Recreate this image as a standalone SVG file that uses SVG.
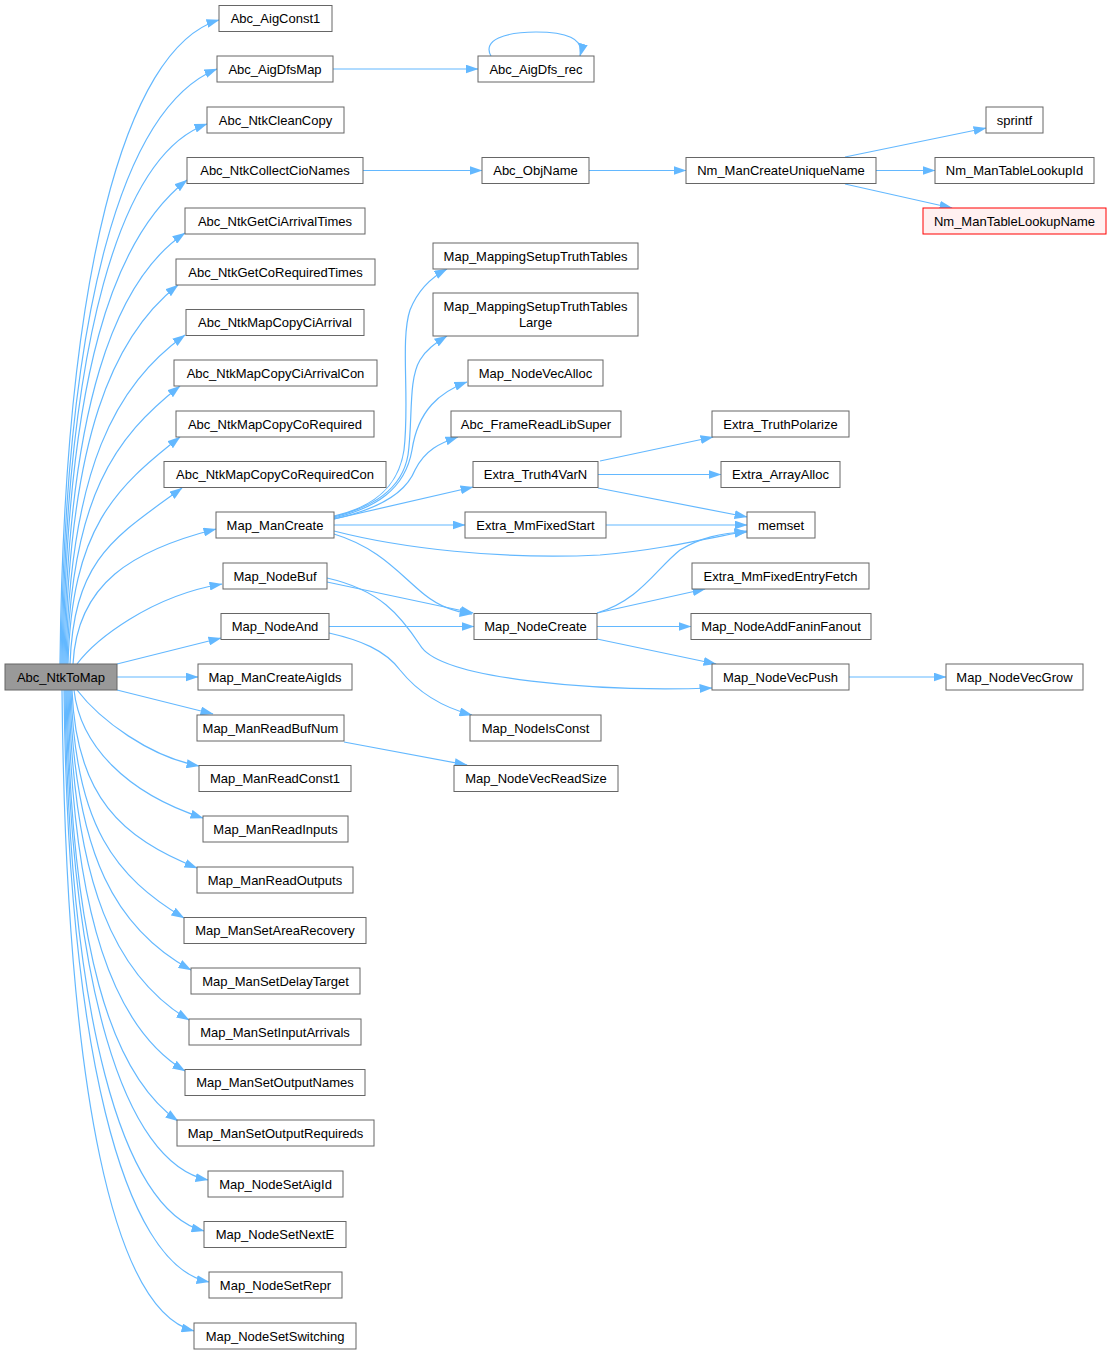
<svg xmlns="http://www.w3.org/2000/svg" width="1111" height="1355" viewBox="0 0 1111 1355">
<style>
.n rect{fill:#ffffff;stroke:#666666;stroke-width:1}
.root rect{fill:#999999;stroke:#666666}
.red rect{fill:#fff0f0;stroke:#ff0000}
text{font-family:"Liberation Sans",Arial,sans-serif;font-size:13px;fill:#000;text-anchor:middle}
.e path{fill:none;stroke:#63b8ff;stroke-width:1.2;marker-end:url(#a)}
</style>
<defs>
<marker id="a" viewBox="0 0 13 9" refX="12.5" refY="4.5" markerWidth="13" markerHeight="9" markerUnits="userSpaceOnUse" orient="auto">
<path d="M0,0 L13,4.5 L0,9 z" fill="#63b8ff" stroke="none"/>
</marker>
</defs>
<rect width="1111" height="1355" fill="#ffffff"/>
<g class="e" id="edges">
<path d="M60,664 C64,278 124,48 219,20"/>
<path d="M61,664 C65,307 123,107 217,69"/>
<path d="M62,664 C66,340 120,155 207,124"/>
<path d="M63,664 C67,374 113,238 187,180"/>
<path d="M64,664 C68,405 115,280 185,233"/>
<path d="M65,664 C69,437 113,336 178,285"/>
<path d="M66,664 C70,467 116,385 185,335"/>
<path d="M67,664 C71,497 115,437 180,386"/>
<path d="M68,664 C72,528 115,488 180,437"/>
<path d="M70,664 C74,558 115,537 182,488"/>
<path d="M73,664 C77,583 133,550 216,529"/>
<path d="M77,664 C95,640 150,596 222,584"/>
<path d="M117,664 L221,638"/>
<path d="M117,677 L198,677"/>
<path d="M117,690 L213,714"/>
<path d="M77,690 C100,720 150,757 199,766"/>
<path d="M74,690 C80,745 126,793 203,818"/>
<path d="M72,690 C76,797 122,838 197,868"/>
<path d="M71,690 C75,827 116,877 184,918"/>
<path d="M70,690 C74,858 118,930 191,970"/>
<path d="M69,690 C73,888 117,977 189,1020"/>
<path d="M68,690 C72,919 115,1029 185,1071"/>
<path d="M67,690 C71,949 111,1074 178,1121"/>
<path d="M66,690 C70,984 123,1163 208,1180"/>
<path d="M65,690 C69,1015 121,1210 204,1231"/>
<path d="M64,690 C68,1045 122,1265 209,1282"/>
<path d="M62,690 C66,1100 115,1311 194,1331"/>
<path d="M333,69 L478,69"/>
<path d="M491,56 C482,40 505,32 536,32 C565,32 585,38 580,56"/>
<path d="M363,170.5 L482,170.5"/>
<path d="M589,170.5 L686,170.5"/>
<path d="M845,157 L986,128"/>
<path d="M876,170.5 L935,170.5"/>
<path d="M845,184 L952,208"/>
<path d="M334,516 C370,508 398,490 404,450 C410,400 400,340 410,310 C418,290 430,278 447,269"/>
<path d="M334,517 C372,507 402,490 408,455 C413,420 408,380 420,360 C426,350 434,344 447,336"/>
<path d="M334,518 C375,508 405,490 412,450 C418,410 440,392 467,382"/>
<path d="M334,519 C375,510 405,495 415,470 C425,450 440,443 458,437"/>
<path d="M334,519 L473,487"/>
<path d="M334,525 L465,525"/>
<path d="M334,531 C400,548 500,560 600,555 C660,550 710,538 747,531"/>
<path d="M334,534 C380,548 400,575 425,595 C440,607 455,612 472,614"/>
<path d="M327,582 L473,613"/>
<path d="M327,578 C380,590 400,615 420,645 C440,680 600,692 712,688"/>
<path d="M329,626.5 L474,626.5"/>
<path d="M329,633 C360,640 385,650 400,670 C420,695 445,708 472,715"/>
<path d="M344,742 L467,765"/>
<path d="M597,613 C640,600 655,570 680,550 C700,538 720,533 747,532"/>
<path d="M597,613 L705,589"/>
<path d="M597,626.5 L691,626.5"/>
<path d="M597,639 L716,664"/>
<path d="M849,677 L946,677"/>
<path d="M600,461 L713,437"/>
<path d="M598,474.5 L721,474.5"/>
<path d="M598,488 L747,517"/>
<path d="M606,525 L747,525"/>
</g>
<g id="Abc_NtkToMap" class="n root"><rect x="5" y="664" width="112" height="26"/><text x="61" y="681.5">Abc_NtkToMap</text></g>
<g id="Abc_AigConst1" class="n"><rect x="219" y="5.5" width="113" height="26"/><text x="275.5" y="23">Abc_AigConst1</text></g>
<g id="Abc_AigDfsMap" class="n"><rect x="217" y="56" width="116" height="26"/><text x="275" y="73.5">Abc_AigDfsMap</text></g>
<g id="Abc_NtkCleanCopy" class="n"><rect x="207" y="107" width="137" height="26"/><text x="275.5" y="124.5">Abc_NtkCleanCopy</text></g>
<g id="Abc_NtkCollectCioNames" class="n"><rect x="187" y="157.5" width="176" height="26"/><text x="275" y="175">Abc_NtkCollectCioNames</text></g>
<g id="Abc_NtkGetCiArrivalTimes" class="n"><rect x="185" y="208" width="180" height="26"/><text x="275" y="225.5">Abc_NtkGetCiArrivalTimes</text></g>
<g id="Abc_NtkGetCoRequiredTimes" class="n"><rect x="176" y="259" width="199" height="26"/><text x="275.5" y="276.5">Abc_NtkGetCoRequiredTimes</text></g>
<g id="Abc_NtkMapCopyCiArrival" class="n"><rect x="186" y="309.5" width="178" height="26"/><text x="275" y="327">Abc_NtkMapCopyCiArrival</text></g>
<g id="Abc_NtkMapCopyCiArrivalCon" class="n"><rect x="174" y="360" width="203" height="26"/><text x="275.5" y="377.5">Abc_NtkMapCopyCiArrivalCon</text></g>
<g id="Abc_NtkMapCopyCoRequired" class="n"><rect x="176" y="411" width="198" height="26"/><text x="275" y="428.5">Abc_NtkMapCopyCoRequired</text></g>
<g id="Abc_NtkMapCopyCoRequiredCon" class="n"><rect x="164" y="461.5" width="222" height="26"/><text x="275" y="479">Abc_NtkMapCopyCoRequiredCon</text></g>
<g id="Map_ManCreate" class="n"><rect x="216" y="512" width="118" height="26"/><text x="275" y="529.5">Map_ManCreate</text></g>
<g id="Map_NodeBuf" class="n"><rect x="223" y="563" width="104" height="26"/><text x="275" y="580.5">Map_NodeBuf</text></g>
<g id="Map_NodeAnd" class="n"><rect x="221" y="613.5" width="108" height="26"/><text x="275" y="631">Map_NodeAnd</text></g>
<g id="Map_ManCreateAigIds" class="n"><rect x="198" y="664" width="154" height="26"/><text x="275" y="681.5">Map_ManCreateAigIds</text></g>
<g id="Map_ManReadBufNum" class="n"><rect x="197" y="715" width="147" height="26"/><text x="270.5" y="732.5">Map_ManReadBufNum</text></g>
<g id="Map_ManReadConst1" class="n"><rect x="199" y="765.5" width="152" height="26"/><text x="275" y="783">Map_ManReadConst1</text></g>
<g id="Map_ManReadInputs" class="n"><rect x="203" y="816" width="145" height="26"/><text x="275.5" y="833.5">Map_ManReadInputs</text></g>
<g id="Map_ManReadOutputs" class="n"><rect x="197" y="867" width="156" height="26"/><text x="275" y="884.5">Map_ManReadOutputs</text></g>
<g id="Map_ManSetAreaRecovery" class="n"><rect x="184" y="917.5" width="182" height="26"/><text x="275" y="935">Map_ManSetAreaRecovery</text></g>
<g id="Map_ManSetDelayTarget" class="n"><rect x="191" y="968" width="169" height="26"/><text x="275.5" y="985.5">Map_ManSetDelayTarget</text></g>
<g id="Map_ManSetInputArrivals" class="n"><rect x="189" y="1019" width="172" height="26"/><text x="275" y="1036.5">Map_ManSetInputArrivals</text></g>
<g id="Map_ManSetOutputNames" class="n"><rect x="185" y="1069.5" width="180" height="26"/><text x="275" y="1087">Map_ManSetOutputNames</text></g>
<g id="Map_ManSetOutputRequireds" class="n"><rect x="177" y="1120" width="197" height="26"/><text x="275.5" y="1137.5">Map_ManSetOutputRequireds</text></g>
<g id="Map_NodeSetAigId" class="n"><rect x="208" y="1171" width="135" height="26"/><text x="275.5" y="1188.5">Map_NodeSetAigId</text></g>
<g id="Map_NodeSetNextE" class="n"><rect x="204" y="1221.5" width="142" height="26"/><text x="275" y="1239">Map_NodeSetNextE</text></g>
<g id="Map_NodeSetRepr" class="n"><rect x="209" y="1272" width="133" height="26"/><text x="275.5" y="1289.5">Map_NodeSetRepr</text></g>
<g id="Map_NodeSetSwitching" class="n"><rect x="194" y="1323" width="162" height="26"/><text x="275" y="1340.5">Map_NodeSetSwitching</text></g>
<g id="Abc_AigDfs_rec" class="n"><rect x="478" y="56" width="116" height="26"/><text x="536" y="73.5">Abc_AigDfs_rec</text></g>
<g id="Abc_ObjName" class="n"><rect x="482" y="157.5" width="107" height="26"/><text x="535.5" y="175">Abc_ObjName</text></g>
<g id="Nm_ManCreateUniqueName" class="n"><rect x="686" y="157.5" width="190" height="26"/><text x="781" y="175">Nm_ManCreateUniqueName</text></g>
<g id="sprintf" class="n"><rect x="986" y="107" width="57" height="26"/><text x="1014.5" y="124.5">sprintf</text></g>
<g id="Nm_ManTableLookupId" class="n"><rect x="935" y="157.5" width="159" height="26"/><text x="1014.5" y="175">Nm_ManTableLookupId</text></g>
<g id="Nm_ManTableLookupName" class="n red"><rect x="923" y="208" width="183" height="26"/><text x="1014.5" y="225.5">Nm_ManTableLookupName</text></g>
<g id="Map_MappingSetupTruthTables" class="n"><rect x="433" y="243" width="205" height="26"/><text x="535.5" y="260.5">Map_MappingSetupTruthTables</text></g>
<g id="Map_MappingSetupTruthTablesLarge" class="n"><rect x="433" y="293" width="205" height="43"/><text x="535.5" y="311">Map_MappingSetupTruthTables</text><text x="535.5" y="327">Large</text></g>
<g id="Map_NodeVecAlloc" class="n"><rect x="468" y="360" width="135" height="26"/><text x="535.5" y="377.5">Map_NodeVecAlloc</text></g>
<g id="Abc_FrameReadLibSuper" class="n"><rect x="451" y="411" width="170" height="26"/><text x="536" y="428.5">Abc_FrameReadLibSuper</text></g>
<g id="Extra_Truth4VarN" class="n"><rect x="473" y="461.5" width="125" height="26"/><text x="535.5" y="479">Extra_Truth4VarN</text></g>
<g id="Extra_MmFixedStart" class="n"><rect x="465" y="512" width="141" height="26"/><text x="535.5" y="529.5">Extra_MmFixedStart</text></g>
<g id="Extra_TruthPolarize" class="n"><rect x="712" y="411" width="137" height="26"/><text x="780.5" y="428.5">Extra_TruthPolarize</text></g>
<g id="Extra_ArrayAlloc" class="n"><rect x="721" y="461.5" width="119" height="26"/><text x="780.5" y="479">Extra_ArrayAlloc</text></g>
<g id="memset" class="n"><rect x="747" y="512" width="68" height="26"/><text x="781" y="529.5">memset</text></g>
<g id="Extra_MmFixedEntryFetch" class="n"><rect x="692" y="563" width="177" height="26"/><text x="780.5" y="580.5">Extra_MmFixedEntryFetch</text></g>
<g id="Map_NodeCreate" class="n"><rect x="474" y="613.5" width="123" height="26"/><text x="535.5" y="631">Map_NodeCreate</text></g>
<g id="Map_NodeAddFaninFanout" class="n"><rect x="691" y="613.5" width="180" height="26"/><text x="781" y="631">Map_NodeAddFaninFanout</text></g>
<g id="Map_NodeVecPush" class="n"><rect x="712" y="664" width="137" height="26"/><text x="780.5" y="681.5">Map_NodeVecPush</text></g>
<g id="Map_NodeVecGrow" class="n"><rect x="946" y="664" width="137" height="26"/><text x="1014.5" y="681.5">Map_NodeVecGrow</text></g>
<g id="Map_NodeIsConst" class="n"><rect x="470" y="715" width="131" height="26"/><text x="535.5" y="732.5">Map_NodeIsConst</text></g>
<g id="Map_NodeVecReadSize" class="n"><rect x="454" y="765.5" width="164" height="26"/><text x="536" y="783">Map_NodeVecReadSize</text></g>
</svg>
